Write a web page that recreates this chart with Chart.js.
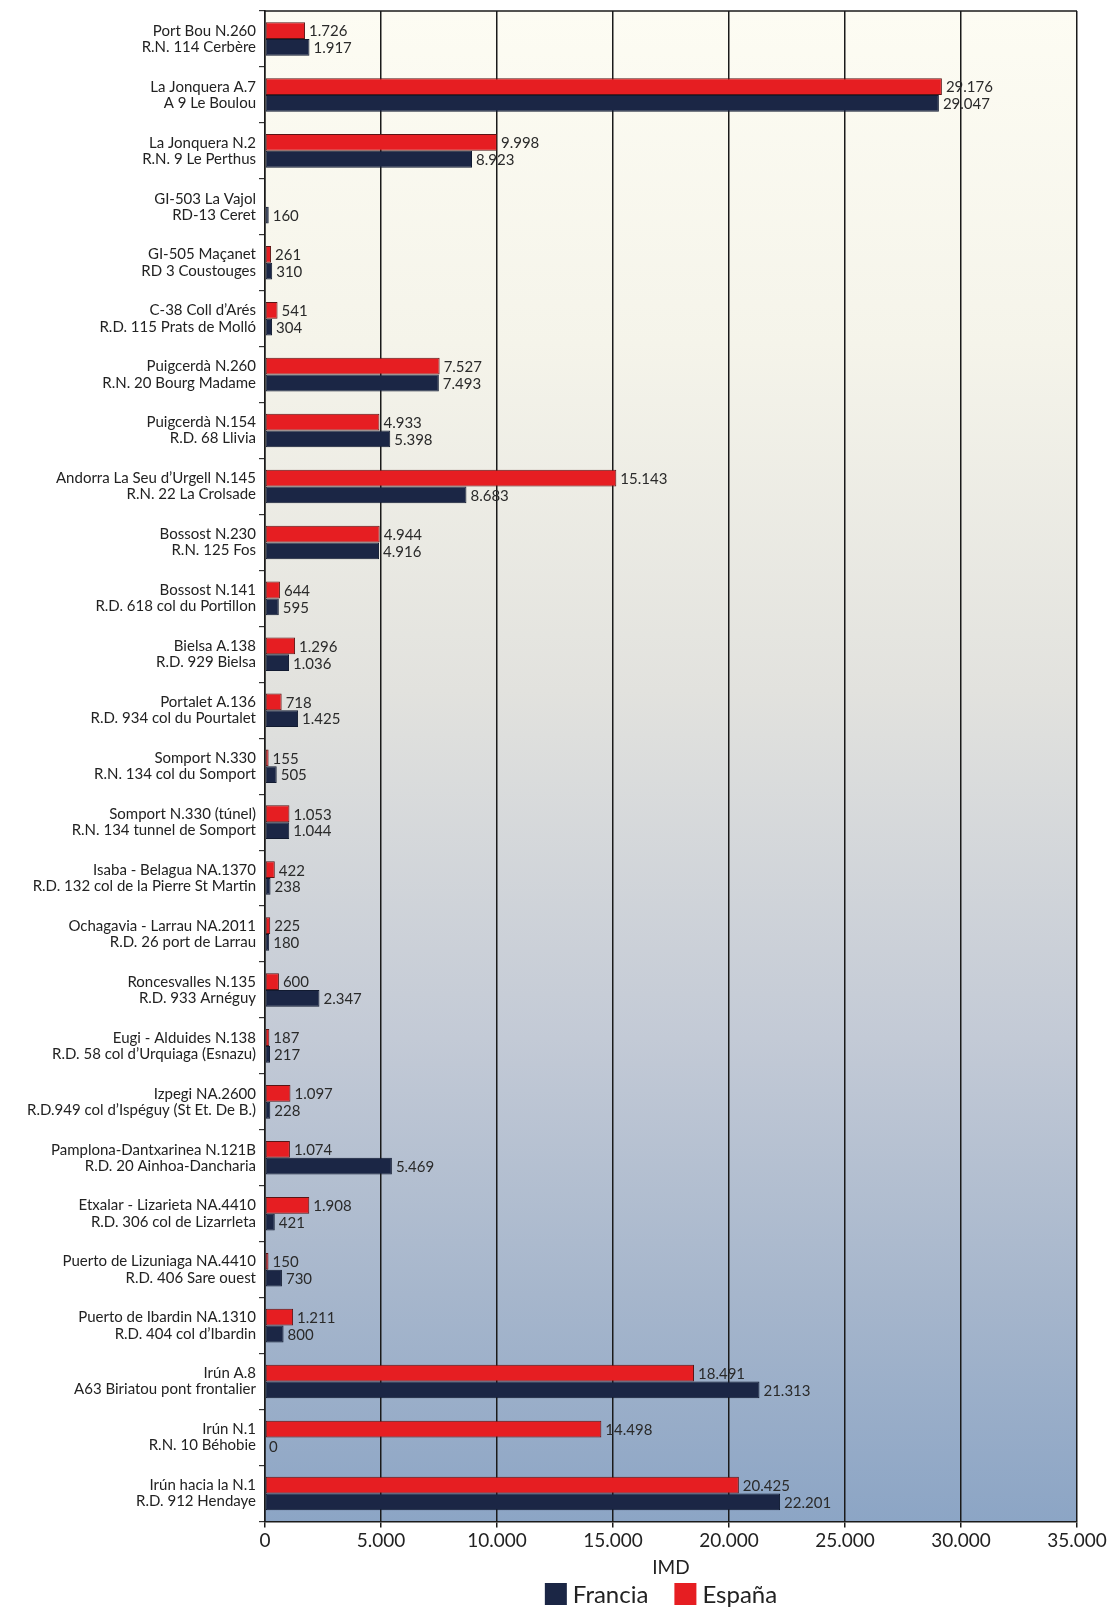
<!DOCTYPE html>
<html lang="es">
<head>
<meta charset="utf-8">
<title>IMD pasos fronterizos España - Francia</title>
<script src="https://cdn.jsdelivr.net/npm/chart.js@4/dist/chart.umd.min.js"></script>
<style>
  html, body { margin: 0; padding: 0; background: #ffffff; }
  #wrap { width: 1109px; height: 1607px; position: relative; }
</style>
</head>
<body>
<div id="wrap"><canvas id="chart" width="1109" height="1607"></canvas></div>
<script>
// Pasos fronterizos: nombre del lado español / nombre del lado francés
const categories = [
  ['Port Bou N.260', 'R.N. 114 Cerbère'],
  ['La Jonquera A.7', 'A 9 Le Boulou'],
  ['La Jonquera N.2', 'R.N. 9 Le Perthus'],
  ['GI-503 La Vajol', 'RD-13 Ceret'],
  ['GI-505 Maçanet', 'RD 3 Coustouges'],
  ['C-38 Coll d\u2019Arés', 'R.D. 115 Prats de Molló'],
  ['Puigcerdà N.260', 'R.N. 20 Bourg Madame'],
  ['Puigcerdà N.154', 'R.D. 68 Llivia'],
  ['Andorra La Seu d\u2019Urgell N.145', 'R.N. 22 La Crolsade'],
  ['Bossost N.230', 'R.N. 125 Fos'],
  ['Bossost N.141', 'R.D. 618 col du Portillon'],
  ['Bielsa A.138', 'R.D. 929 Bielsa'],
  ['Portalet A.136', 'R.D. 934 col du Pourtalet'],
  ['Somport N.330', 'R.N. 134 col du Somport'],
  ['Somport N.330 (túnel)', 'R.N. 134 tunnel de Somport'],
  ['Isaba - Belagua NA.1370', 'R.D. 132 col de la Pierre St Martin'],
  ['Ochagavia - Larrau NA.2011', 'R.D. 26 port de Larrau'],
  ['Roncesvalles N.135', 'R.D. 933 Arnéguy'],
  ['Eugi - Alduides N.138', 'R.D. 58 col d\u2019Urquiaga (Esnazu)'],
  ['Izpegi NA.2600', 'R.D.949 col d\u2019Ispéguy (St Et. De B.)'],
  ['Pamplona-Dantxarinea N.121B', 'R.D. 20 Ainhoa-Dancharia'],
  ['Etxalar - Lizarieta NA.4410', 'R.D. 306 col de Lizarrleta'],
  ['Puerto de Lizuniaga NA.4410', 'R.D. 406 Sare ouest'],
  ['Puerto de Ibardin NA.1310', 'R.D. 404 col d\u2019Ibardin'],
  ['Irún A.8', 'A63 Biriatou pont frontalier'],
  ['Irún N.1', 'R.N. 10 Béhobie'],
  ['Irún hacia la N.1', 'R.D. 912 Hendaye']
];

// Intensidad media diaria (vehículos/día)
const imdEspana = [1726, 29176, 9998, null, 261, 541, 7527, 4933, 15143, 4944, 644, 1296, 718, 155, 1053, 422, 225, 600, 187, 1097, 1074, 1908, 150, 1211, 18491, 14498, 20425];
const imdFrancia = [1917, 29047, 8923, 160, 310, 304, 7493, 5398, 8683, 4916, 595, 1036, 1425, 505, 1044, 238, 180, 2347, 217, 228, 5469, 421, 730, 800, 21313, 0, 22201];

const seriesNames = ['España', 'Francia'];
const axisTitle = 'IMD';
const xTicks = [0, 5000, 10000, 15000, 20000, 25000, 30000, 35000];

const FONT = 'Lato, "DejaVu Sans", sans-serif';
const RED = '#e61e22';
const NAVY = '#1b2645';

// Miles separados con punto
function fmt(v) {
  return String(v).replace(/\B(?=(\d{3})+(?!\d))/g, '.');
}

// Fondo degradado del área de trazado y borde superior
const plotBackground = {
  id: 'plotBackground',
  beforeDraw(chart) {
    const { ctx, chartArea: a } = chart;
    const g = ctx.createLinearGradient(0, a.top, 0, a.bottom);
    g.addColorStop(0.0, '#fdfcf3');
    g.addColorStop(0.22, '#f5f4ea');
    g.addColorStop(0.45, '#e2e2de');
    g.addColorStop(0.68, '#c3cad6');
    g.addColorStop(0.85, '#a6b6cc');
    g.addColorStop(1.0, '#8ca5c5');
    ctx.save();
    ctx.fillStyle = g;
    ctx.fillRect(a.left, a.top, a.right - a.left, a.bottom - a.top);
    ctx.restore();
  },
  afterDraw(chart) {
    const { ctx, chartArea: a } = chart;
    ctx.save();
    ctx.strokeStyle = '#1a1a1a';
    ctx.lineWidth = 1.5;
    ctx.beginPath();
    ctx.moveTo(a.left, a.top);
    ctx.lineTo(a.right, a.top);
    ctx.stroke();
    ctx.restore();
  }
};

// Valor al final de cada barra
const barValues = {
  id: 'barValues',
  afterDatasetsDraw(chart) {
    const { ctx } = chart;
    ctx.save();
    ctx.font = '15px ' + FONT;
    ctx.fillStyle = '#2a2a2a';
    ctx.textAlign = 'left';
    ctx.textBaseline = 'middle';
    chart.data.datasets.forEach((ds, i) => {
      const meta = chart.getDatasetMeta(i);
      meta.data.forEach((bar, j) => {
        const v = ds.data[j];
        if (v === null || v === undefined) return;
        ctx.fillText(fmt(v), bar.x + 4, bar.y + 1);
      });
    });
    ctx.restore();
  }
};

// Leyenda inferior: Francia, España
const bottomLegend = {
  id: 'bottomLegend',
  afterDraw(chart) {
    const { ctx, chartArea: a } = chart;
    const items = chart.data.datasets.map(ds => ({ text: ds.label, color: ds.backgroundColor })).reverse();
    const box = 22, gapText = 6, gapItem = 26;
    ctx.save();
    ctx.font = '24px ' + FONT;
    ctx.textBaseline = 'middle';
    ctx.textAlign = 'left';
    const widths = items.map(it => box + gapText + ctx.measureText(it.text).width);
    const total = widths.reduce((s, w) => s + w, 0) + gapItem * (items.length - 1);
    let x = (a.left + a.right) / 2 - 10 - total / 2;
    const cy = chart.height - 13;
    items.forEach((it, i) => {
      ctx.fillStyle = it.color;
      ctx.fillRect(x, cy - box / 2, box, box);
      ctx.fillStyle = '#222';
      ctx.fillText(it.text, x + box + gapText, cy + 1);
      x += widths[i] + gapItem;
    });
    ctx.restore();
  }
};

new Chart(document.getElementById('chart'), {
  type: 'bar',
  data: {
    labels: categories,
    datasets: [
      {
        label: seriesNames[0],
        data: imdEspana,
        backgroundColor: RED,
        borderColor: '#5a1414',
        borderWidth: 1,
        borderSkipped: false,
        categoryPercentage: 0.6,
        barPercentage: 1.0
      },
      {
        label: seriesNames[1],
        data: imdFrancia,
        backgroundColor: NAVY,
        borderColor: '#111a30',
        borderWidth: 1,
        borderSkipped: false,
        categoryPercentage: 0.6,
        barPercentage: 1.0
      }
    ]
  },
  options: {
    indexAxis: 'y',
    responsive: false,
    animation: false,
    layout: { padding: { top: 11, right: 32, bottom: 28, left: 0 } },
    scales: {
      x: {
        type: 'linear',
        min: 0,
        max: 35000,
        afterBuildTicks(scale) {
          scale.ticks = xTicks.map(v => ({ value: v }));
        },
        ticks: {
          callback: v => fmt(v),
          color: '#222',
          font: { family: FONT, size: 19 },
          padding: 2,
          maxRotation: 0
        },
        grid: {
          color: '#1a1a1a',
          lineWidth: 1.5,
          tickLength: 6,
          drawOnChartArea: true
        },
        border: { display: true, color: '#1a1a1a', width: 1.5 },
        title: {
          display: true,
          text: axisTitle,
          color: '#222',
          font: { family: FONT, size: 19 },
          padding: { top: 2, bottom: 0 }
        }
      },
      y: {
        type: 'category',
        afterFit(scale) {
          scale.width = 265;
          scale.paddingTop = 0;
          scale.paddingBottom = 0;
        },
        ticks: {
          color: '#222',
          font: { family: FONT, size: 15, lineHeight: 1.08 },
          padding: 3,
          autoSkip: false
        },
        grid: {
          display: true,
          drawOnChartArea: false,
          offset: true,
          color: '#333',
          lineWidth: 1.2,
          tickLength: 6
        },
        border: { display: true, color: '#1a1a1a', width: 1.5 }
      }
    },
    plugins: {
      legend: { display: false },
      tooltip: { enabled: false }
    }
  },
  plugins: [plotBackground, barValues, bottomLegend]
});
</script>
</body>
</html>
